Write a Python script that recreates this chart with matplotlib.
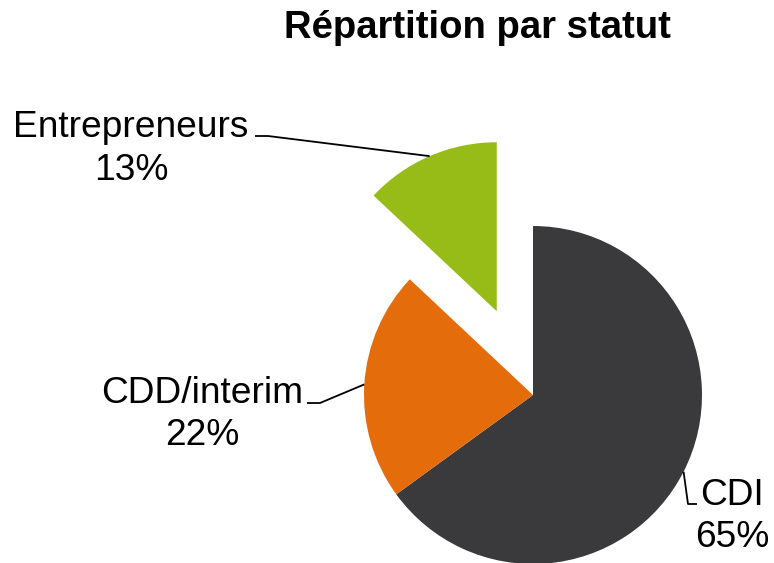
import numpy as np
import matplotlib
matplotlib.use("Agg")
import matplotlib.pyplot as plt

categories = ["CDI", "CDD/interim", "Entrepreneurs"]
values = [65, 22, 13]
pct_labels = ["65%", "22%", "13%"]
colors = ["#3a3a3c", "#e46c0a", "#97bc18"]
explode = [0, 0, 0.54]

W, H = 774, 563
plt.rcParams['font.family'] = ['Liberation Sans', 'DejaVu Sans']
fig = plt.figure(figsize=(W / 100, H / 100), dpi=100)
ax = fig.add_axes([0, 0, 1, 1])

R = 169.0  # pixels per unit radius
cx, cy = 533, 395  # pie center in pixels (from top)

wedges, _ = ax.pie(values, colors=colors, startangle=90, counterclock=False,
                   explode=explode, radius=1.0, wedgeprops=dict(linewidth=0))

ax.set_aspect('auto')
ax.set_xlim(-cx / R, (W - cx) / R)
ax.set_ylim(-(H - cy) / R, cy / R)
ax.axis('off')

def px(x, y):
    return ((x - cx) / R, (cy - y) / R)

# label positions (center x, baseline of line 1, baseline of line 2) in pixels, leader elbows
label_info = {
    "CDI": dict(pos=(732, 505, 547), elbow=[(697, 504), (688, 504)]),
    "CDD/interim": dict(pos=(202, 403, 445), elbow=[(307, 403), (320, 403)]),
    "Entrepreneurs": dict(pos=(131, 137, 180), elbow=[(255, 136), (268, 136)]),
}

FS = 26.7
for w, cat, pct in zip(wedges, categories, pct_labels):
    info = label_info[cat]
    x0, y1, y2 = info["pos"]
    lx, ly1 = px(x0, y1)
    _, ly2 = px(x0, y2)
    ax.text(lx, ly1, cat, ha='center', va='baseline', fontsize=FS, color='black')
    ax.text(lx, ly2, pct, ha='center', va='baseline', fontsize=FS, color='black')
    mid = np.deg2rad((w.theta1 + w.theta2) / 2)
    ex = w.center[0] + w.r * np.cos(mid)
    ey = w.center[1] + w.r * np.sin(mid)
    pts = [px(*p) for p in info["elbow"]] + [(ex, ey)]
    xs, ys = zip(*pts)
    ax.plot(xs, ys, color='black', lw=1.3, solid_capstyle='butt')

tx, ty = px(477, 38)
ax.text(tx, ty, "Répartition par statut", ha='center', va='baseline',
        fontsize=27.5, fontweight='bold', color='black')

fig.savefig("out.png", dpi=100)
